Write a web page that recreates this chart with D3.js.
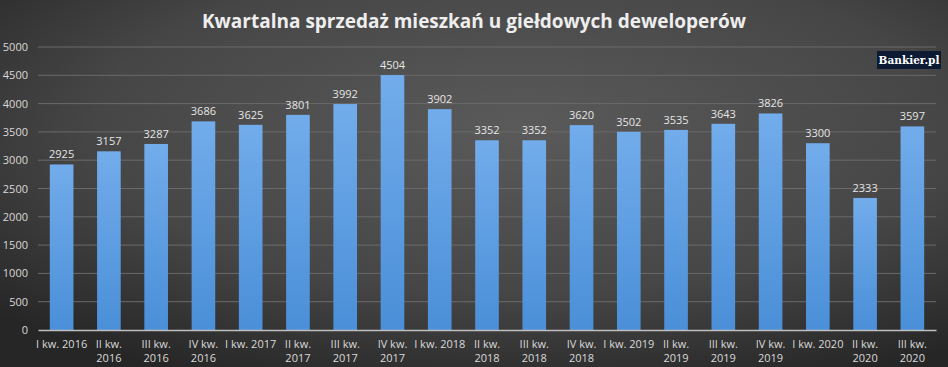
<!DOCTYPE html>
<html lang="pl">
<head>
<meta charset="UTF-8">
<title>Kwartalna sprzedaż mieszkań</title>
<script src="https://d3js.org/d3.v7.min.js"></script>
<style>
    body { margin: 0; background: #333; }
    svg { display: block; }
    .tick text { font-family: "Open Sans", sans-serif; font-size: 11px; fill: #d9d9d9; }
    .value { font-family: "Open Sans", sans-serif; font-size: 11px; fill: #e6e6e6; }
</style>
</head>
<body>
<svg id="chart" width="948" height="367"></svg>
<script>
const quarters = ["I kw. 2016", "II kw. 2016", "III kw. 2016", "IV kw. 2016",
    "I kw. 2017", "II kw. 2017", "III kw. 2017", "IV kw. 2017",
    "I kw. 2018", "II kw. 2018", "III kw. 2018", "IV kw. 2018",
    "I kw. 2019", "II kw. 2019", "III kw. 2019", "IV kw. 2019",
    "I kw. 2020", "II kw. 2020", "III kw. 2020"];
const sales = [2925, 3157, 3287, 3686, 3625, 3801, 3992, 4504, 3902, 3352,
    3352, 3620, 3502, 3535, 3643, 3826, 3300, 2333, 3597];
const yTicks = [0, 500, 1000, 1500, 2000, 2500, 3000, 3500, 4000, 4500, 5000];

const W = 948, H = 367;
const margin = { top: 47, right: 12, bottom: 37, left: 38 };
const innerW = W - margin.left - margin.right;
const innerH = H - margin.top - margin.bottom;

const svg = d3.select("#chart");
const defs = svg.append("defs");

// background: dark gray, lighter in the middle
const bg = defs.append("radialGradient").attr("id", "bg")
    .attr("cx", "55%").attr("cy", "35%").attr("r", "75%");
bg.append("stop").attr("offset", "0%").attr("stop-color", "#5a5a5a");
bg.append("stop").attr("offset", "60%").attr("stop-color", "#464646");
bg.append("stop").attr("offset", "100%").attr("stop-color", "#262626");

const barGrad = defs.append("linearGradient").attr("id", "barGrad")
    .attr("x1", 0).attr("y1", 0).attr("x2", 0).attr("y2", 1);
barGrad.append("stop").attr("offset", "0%").attr("stop-color", "#72aceb");
barGrad.append("stop").attr("offset", "100%").attr("stop-color", "#4a8fd8");

svg.append("rect").attr("width", W).attr("height", H).attr("fill", "url(#bg)");

svg.append("text")
    .attr("x", 474).attr("y", 28)
    .attr("text-anchor", "middle")
    .attr("font-family", "Open Sans, sans-serif")
    .attr("font-weight", "bold")
    .attr("font-size", 19)
    .attr("fill", "#eeeeee")
    .text("Kwartalna sprzedaż mieszkań u giełdowych deweloperów");

const g = svg.append("g").attr("transform", `translate(${margin.left},${margin.top})`);

const x = d3.scaleBand().domain(quarters).range([0, innerW]).paddingInner(0.5).paddingOuter(0.25);
const y = d3.scaleLinear().domain([0, 5000]).range([innerH, 0]);

// gridlines
g.append("g")
    .selectAll("line")
    .data(yTicks.filter(d => d > 0))
    .enter().append("line")
    .attr("x1", 0).attr("x2", innerW)
    .attr("y1", d => y(d)).attr("y2", d => y(d))
    .attr("stroke", "#6a6a6a").attr("stroke-width", 1);

// y axis labels
const yAxis = g.append("g")
    .call(d3.axisLeft(y).tickValues(yTicks).tickFormat(d3.format("d")).tickSize(0).tickPadding(10));
yAxis.select(".domain").remove();

// bars
g.append("g")
    .selectAll("rect")
    .data(sales)
    .enter().append("rect")
    .attr("x", (d, i) => x(quarters[i]))
    .attr("y", d => y(d))
    .attr("width", x.bandwidth())
    .attr("height", d => innerH - y(d))
    .attr("fill", "url(#barGrad)");

g.append("g")
    .selectAll("text")
    .data(sales)
    .enter().append("text")
    .attr("class", "value")
    .attr("x", (d, i) => x(quarters[i]) + x.bandwidth() / 2)
    .attr("y", d => y(d) - 6)
    .attr("text-anchor", "middle")
    .text(d => d);

// x axis
const xAxis = g.append("g")
    .attr("transform", `translate(0,${innerH})`)
    .call(d3.axisBottom(x).tickSize(0).tickPadding(10));
xAxis.select(".domain").attr("stroke", "#bfbfbf").attr("stroke-width", 1.5);
xAxis.selectAll(".tick text").each(function(d) {
    const t = d3.select(this);
    if (d.length <= 10) return;
    const cut = d.lastIndexOf(" ");
    t.text(null);
    t.append("tspan").attr("x", 0).attr("dy", "0.71em").text(d.slice(0, cut));
    t.append("tspan").attr("x", 0).attr("dy", "1.3em").text(d.slice(cut + 1));
});

// logo
const logo = svg.append("g").attr("transform", "translate(877,51)");
logo.append("rect").attr("width", 64).attr("height", 18).attr("fill", "#0d1a33");
logo.append("text")
    .attr("x", 32).attr("y", 13)
    .attr("text-anchor", "middle")
    .attr("font-family", "DejaVu Serif, serif")
    .attr("font-weight", "bold")
    .attr("font-size", 10.5)
    .attr("fill", "#ffffff")
    .text("Bankier.pl");
</script>
</body>
</html>
